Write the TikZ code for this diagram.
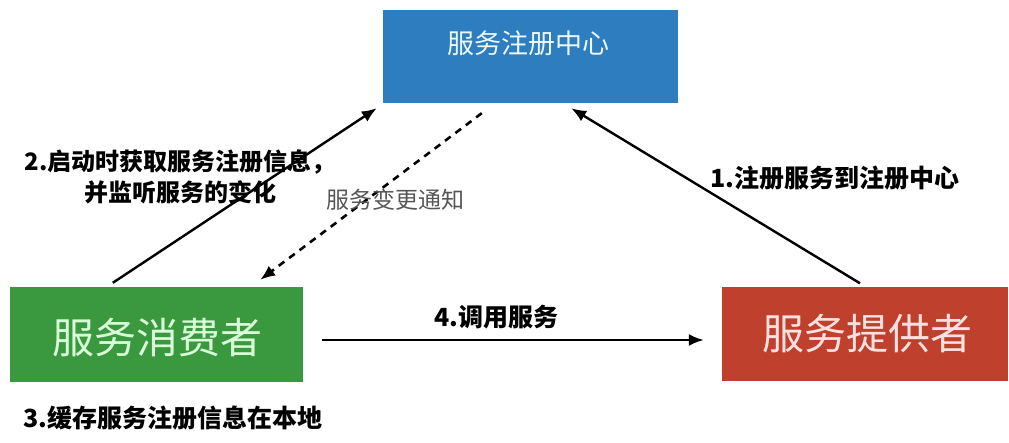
\documentclass[tikz,border=0pt]{standalone}
\usepackage{fontspec}
\newfontfamily\cjk{Noto Sans CJK SC}
\usetikzlibrary{arrows.meta}
\definecolor{regblue}{RGB}{46,125,190}
\definecolor{consgreen}{RGB}{58,152,62}
\definecolor{provred}{RGB}{192,64,46}
\definecolor{notegray}{RGB}{85,85,85}
\tikzset{
  box/.style={draw=none, inner sep=0pt, minimum width=#1},
  arr/.style={line width=2.4pt, -{Latex[length=15pt,width=12pt]}},
  darr/.style={line width=2.6pt, dash pattern=on 7pt off 6pt, -{Latex[length=15pt,width=12pt]}},
  lbl/.style={font=\cjk\bfseries\fontsize{24}{31}\selectfont, text=black, inner sep=0pt, align=center},
  boxtext/.style={font=\cjk\fontsize{42}{50}\selectfont, inner sep=0pt},
}
\begin{document}
\begin{tikzpicture}[x=1pt,y=-1pt]
\useasboundingbox (0,0) rectangle (1009,443);
% boxes
\node[box=295pt, minimum height=93pt, fill=regblue] (reg) at (530.5,56.5) {};
\node[font=\cjk\fontsize{27}{32}\selectfont, text=white!92!cyan, inner sep=0pt] (regt) at (528,43) {服务注册中心};
\node[box=293pt, minimum height=95pt, fill=consgreen] (cons) at (156.5,334.5) {};
\node[boxtext, text=white!85!green] (const) at (157,338) {服务消费者};
\node[box=286pt, minimum height=93pt, fill=provred] (prov) at (865,334) {};
\node[boxtext, text=white!88!red] (provt) at (867,334) {服务提供者};
% connectors
\draw[arr] ([xshift=103pt,yshift=4pt]cons.north west) -- ([xshift=-6pt,yshift=-5pt]reg.south west);
\draw[darr] ([xshift=99pt,yshift=-10pt]reg.south west) -- ([xshift=-43pt,yshift=7pt]cons.north east);
\draw[arr] ([xshift=-5pt,yshift=4pt]prov.north) -- ([xshift=-107pt,yshift=-5pt]reg.south east);
\draw[arr] ([xshift=19pt,yshift=-5.5pt]cons.east) -- ([xshift=-18pt,yshift=-6pt]prov.west);
% labels
\node[lbl] (l2) at (180,177) {2.启动时获取服务注册信息，\\并监听服务的变化};
\node[font=\cjk\fontsize{23}{28}\selectfont, text=notegray, inner sep=0pt] (lnote) at (395,200) {服务变更通知};
\node[lbl, font=\cjk\bfseries\fontsize{25}{31}\selectfont] (l1) at (835,178) {1.注册服务到注册中心};
\node[lbl, font=\cjk\bfseries\fontsize{25}{31}\selectfont] (l4) at (496,317) {4.调用服务};
\node[lbl, font=\cjk\bfseries\fontsize{25}{31}\selectfont] (l3) at (173,418) {3.缓存服务注册信息在本地};
\end{tikzpicture}
\end{document}
